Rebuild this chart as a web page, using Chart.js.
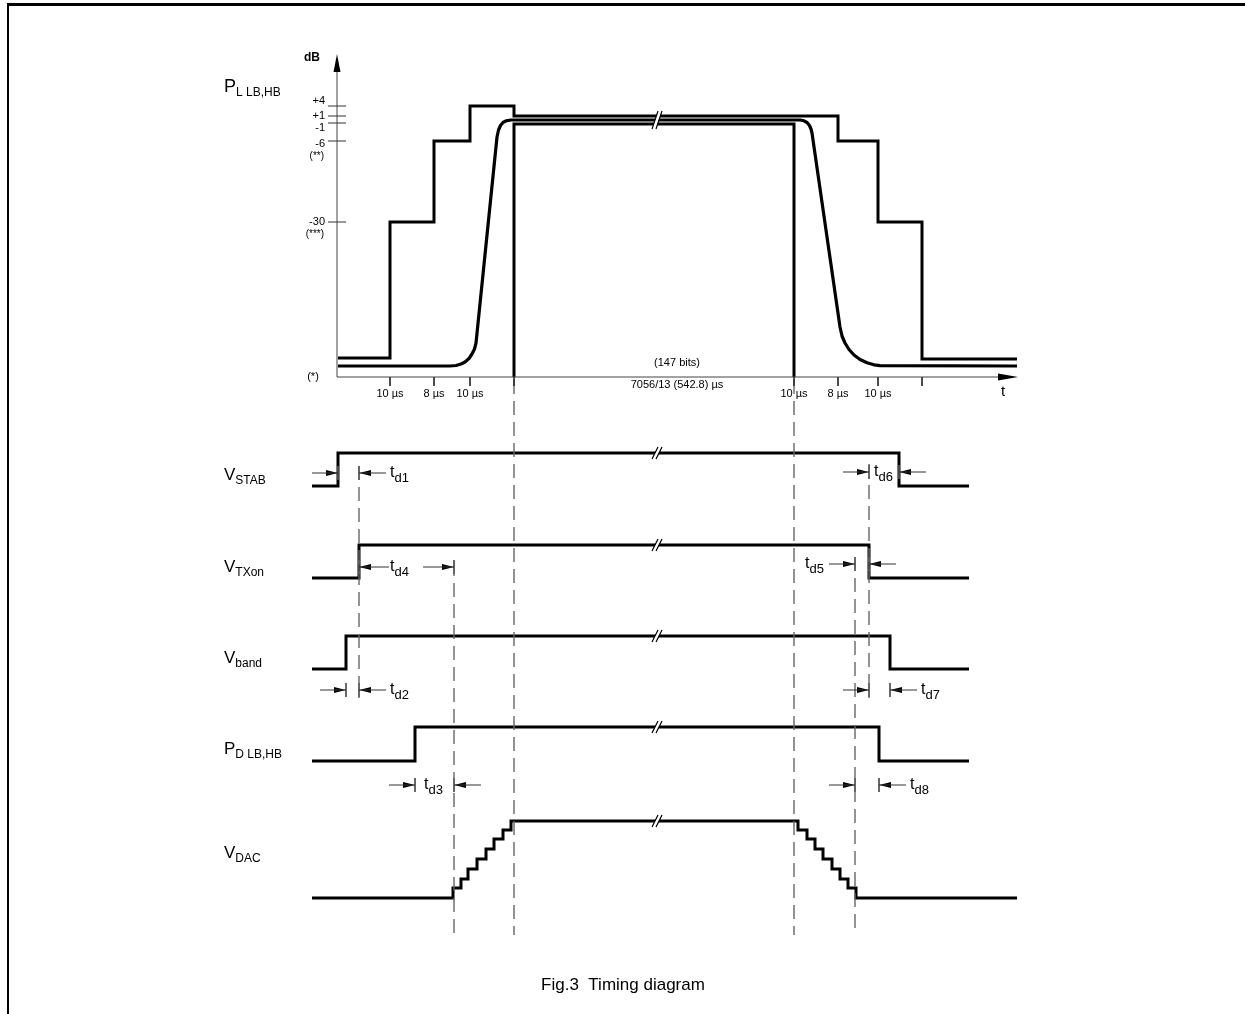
<!DOCTYPE html>
<html>
<head>
<meta charset="utf-8">
<script src="https://cdn.jsdelivr.net/npm/chart.js@4/dist/chart.umd.min.js"></script>
<style>
html, body { margin:0; padding:0; background:#fff; }
#wrap { position:relative; width:1245px; height:1014px; overflow:hidden; }
#frame { position:absolute; left:7px; top:3px; width:1250px; height:1030px; border-top:3px solid #000; border-left:2px solid #000; }
canvas { position:absolute; left:0; top:0; }
</style>
</head>
<body>
<div id="wrap"><div id="frame"></div><canvas id="c" width="1245" height="1014"></canvas></div>
<script>
// Values, in diagram units (t to the right, level downwards)

// t axis of the power plot
var tTicks      = [390, 434, 470, 514, 794, 838, 878, 922];
var tTickLabels = ['10 µs', '8 µs', '10 µs', '', '10 µs', '8 µs', '10 µs', ''];

// dB axis
var dbTicks  = [106, 116, 123, 141, 222];
var dbLabels = ['+4', '+1', '-1', '-6', '-30'];
var dbNotes  = ['', '', '', '(**)', '(***)'];

// power/time template: upper mask (stepped) and lower mask
var maskUpT   = [338, 390, 434, 470, 514, 838, 878, 922, 1017];
var maskUpLvl = [358, 222, 141, 106, 116, 141, 222, 359, 359];
var maskLoT   = [514, 514, 794, 794];
var maskLoLvl = [377, 124, 124, 377];

// transmitted power burst
var powerT   = [338, 450, 456, 461, 465, 469, 472, 474.5, 476, 497, 498.5, 500.5, 503, 506, 511,
                800, 804, 807, 809.5, 811, 812, 840, 842, 845, 849, 854, 860, 867, 874, 880, 1017];
var powerLvl = [366, 366, 365.5, 364, 362, 358.5, 354, 349, 343, 137, 130, 125.5, 122.5, 120.8, 120,
                120, 120.8, 122.5, 125.5, 129, 133, 327, 336, 343, 349.5, 355, 359.5, 362.8, 364.8, 365.7, 366];

// control signals: switch-on and switch-off instants
var sigMain = ['V', 'V', 'V', 'P'];
var sigSub  = ['STAB', 'TXon', 'band', 'D LB,HB'];
var sigHigh = [453, 545, 636, 727];
var sigLow  = [486, 578, 669, 761];
var sigOn   = [338, 359, 346, 415];
var sigOff  = [899, 869, 890, 879];

// DAC ramp (8 steps up, 8 steps down)
var dacUpT   = [453, 461, 468, 477, 486, 494, 503, 511];
var dacDownT = [798, 807, 815, 823, 832, 840, 848, 856];
var dacLvl   = [898, 888, 879, 869, 859, 849, 839, 830, 821];

// delay markers t_d1..t_d8
var tdNames = ['d1', 'd2', 'd3', 'd4', 'd5', 'd6', 'd7', 'd8'];
var tdLvl   = [473, 690, 785, 567, 564, 472, 690, 785];
var tdFrom  = [338, 346, 415, 359, 855, 869, 869, 855];
var tdTo    = [359, 359, 454, 454, 869, 899, 890, 879];

// dashed reference lines
var guideT    = [359, 454, 514, 794, 855, 869];
var guideFrom = [466, 562, 380, 380, 557, 464];
var guideTo   = [698, 935, 935, 935, 935, 698];

var FONT = "'Liberation Sans', Arial, Helvetica, sans-serif";

function pts(xs, ys){
	return xs.map(function(x, i){ return { x: x, y: ys[i] }; });
}

function line(data, extra){
	var d = { data: data, borderColor: '#000', borderWidth: 3, pointRadius: 0, fill: false,
		tension: 0, borderJoinStyle: 'miter', borderCapStyle: 'butt', spanGaps: false };
	for (var k in extra) d[k] = extra[k];
	return d;
}

var datasets = [];

// axes of the power plot
datasets.push(line([{x:337, y:377}, {x:1005, y:377}], { borderWidth: 1, borderColor: '#444' }));
datasets.push(line([{x:337, y:377}, {x:337, y:64}], { borderWidth: 1, borderColor: '#444' }));

// tick marks (segments separated by gaps)
var ticks = [];
tTicks.forEach(function(t){ ticks.push({x:t, y:377}, {x:t, y:386}, {x:t, y:null}); });
dbTicks.forEach(function(l){ ticks.push({x:328, y:l}, {x:346, y:l}, {x:346, y:null}); });
datasets.push(line(ticks, { borderWidth: 1, borderColor: '#333' }));

// dashed reference lines
var guides = [];
guideT.forEach(function(t, i){ guides.push({x:t, y:guideFrom[i]}, {x:t, y:guideTo[i]}, {x:t, y:null}); });
datasets.push(line(guides, { borderWidth: 1.4, borderColor: '#666', borderDash: [14, 7] }));

// small end marks of delay arrows
var tdMarks = [];
tdNames.forEach(function(n, i){
	[tdFrom[i], tdTo[i]].forEach(function(t){ tdMarks.push({x:t, y:tdLvl[i]-7}, {x:t, y:tdLvl[i]+7}, {x:t, y:null}); });
});
datasets.push(line(tdMarks, { borderWidth: 1, borderColor: '#555' }));

// masks and burst
datasets.push(line(pts(maskUpT, maskUpLvl), { stepped: true }));
datasets.push(line(pts(maskLoT, maskLoLvl)));
datasets.push(line(pts(powerT, powerLvl), { borderWidth: 3.2, borderJoinStyle: 'round' }));

// control signals
sigMain.forEach(function(m, i){
	var d = [{x:312, y:sigLow[i]}, {x:sigOn[i], y:sigHigh[i]}, {x:sigOff[i], y:sigLow[i]}, {x:969, y:sigLow[i]}];
	datasets.push(line(d, { stepped: true }));
});

// DAC staircase
var dac = [{x:312, y:dacLvl[0]}];
dacUpT.forEach(function(t, i){ dac.push({x:t, y:dacLvl[i+1]}); });
dacDownT.forEach(function(t, i){ dac.push({x:t, y:dacLvl[dacLvl.length-2-i]}); });
dac.push({x:1017, y:dacLvl[0]});
datasets.push(line(dac, { stepped: true }));

// text, arrows and break marks drawn on top using the chart scales
var decorations = {
	id: 'decorations',
	afterDatasetsDraw: function(chart){
		var ctx = chart.ctx, sx = chart.scales.x, sy = chart.scales.y;
		function X(v){ return sx.getPixelForValue(v); }
		function Y(v){ return sy.getPixelForValue(v); }

		function text(s, x, y, size, align, bold){
			ctx.font = (bold ? 'bold ' : '') + size + 'px ' + FONT;
			ctx.textAlign = align || 'left';
			ctx.textBaseline = 'middle';
			ctx.fillStyle = '#000';
			ctx.fillText(s, X(x), Y(y));
		}
		// big letter with subscript
		function sub(m, s, x, y, size, subSize, drop){
			ctx.font = size + 'px ' + FONT;
			ctx.textAlign = 'left';
			ctx.textBaseline = 'middle';
			ctx.fillStyle = '#000';
			ctx.fillText(m, X(x), Y(y));
			var w = ctx.measureText(m).width;
			ctx.font = subSize + 'px ' + FONT;
			ctx.fillText(s, X(x) + w, Y(y) + drop);
		}
		function arrow(tip, y, dir, len, half){
			var x = X(tip), yy = Y(y);
			ctx.beginPath();
			ctx.moveTo(x, yy);
			ctx.lineTo(x - dir*len, yy - half);
			ctx.lineTo(x - dir*len, yy + half);
			ctx.closePath();
			ctx.fillStyle = '#000';
			ctx.fill();
		}
		function hline(a, b, y){
			ctx.beginPath();
			ctx.moveTo(X(a), Y(y));
			ctx.lineTo(X(b), Y(y));
			ctx.strokeStyle = '#333';
			ctx.lineWidth = 1;
			ctx.stroke();
		}
		function brk(t, y, h){
			var x = X(t), yy = Y(y);
			ctx.beginPath();
			ctx.moveTo(x-5, yy+h); ctx.lineTo(x+1, yy-h); ctx.lineTo(x+5, yy-h); ctx.lineTo(x-1, yy+h);
			ctx.closePath();
			ctx.fillStyle = '#fff';
			ctx.fill();
			ctx.strokeStyle = '#000';
			ctx.lineWidth = 1.2;
			ctx.beginPath();
			ctx.moveTo(x-5, yy+h); ctx.lineTo(x+1, yy-h);
			ctx.moveTo(x-1, yy+h); ctx.lineTo(x+5, yy-h);
			ctx.stroke();
		}

		ctx.save();

		// breaks in the long burst
		brk(657, 120, 9);
		sigHigh.forEach(function(l){ brk(657, l, 6); });
		brk(657, dacLvl[dacLvl.length-1], 6);

		// axis arrows
		ctx.beginPath();
		ctx.moveTo(X(337), Y(54)); ctx.lineTo(X(333.5), Y(72)); ctx.lineTo(X(340.5), Y(72)); ctx.closePath();
		ctx.fillStyle = '#000'; ctx.fill();
		arrow(1018, 377, 1, 20, 3.5);

		// axis labels
		var dbShift = [-5, 0, 5, 3, 0];
		text('dB', 312, 58, 12, 'center', true);
		text('t', 1003, 392, 15, 'center');
		text('(*)', 313, 377, 11, 'center');
		dbTicks.forEach(function(l, i){
			text(dbLabels[i], 325, l + dbShift[i], 11, 'right');
			if (dbNotes[i]) text(dbNotes[i], 324, l + dbShift[i] + 12, 10, 'right');
		});
		tTicks.forEach(function(t, i){ if (tTickLabels[i]) text(tTickLabels[i], t, 394, 11, 'center'); });
		text('(147 bits)', 677, 363, 11, 'center');
		text('7056/13 (542.8) µs', 677, 385, 11, 'center');

		// signal names
		sub('P', 'L LB,HB', 224, 87, 18, 12, 6);
		sigMain.forEach(function(m, i){ sub(m, sigSub[i], 224, sigHigh[i] + 22, 17, 12, 6); });
		sub('V', 'DAC', 224, 853, 17, 12, 6);

		// delay markers
		tdNames.forEach(function(n, i){
			var a = tdFrom[i], b = tdTo[i], y = tdLvl[i];
			if (n == 'd4'){
				arrow(a, y, -1, 12, 3); arrow(b, y, 1, 12, 3);
				hline(a, 389, y); hline(423, b, y);
				sub('t', n, 390, y, 16, 13, 5);
				return;
			}
			arrow(a, y, 1, 12, 3); arrow(b, y, -1, 12, 3);
			hline(a - 26, a, y); hline(b, b + 27, y);
			if (n == 'd3') sub('t', n, 424, y, 16, 13, 5);
			else if (n == 'd6') sub('t', n, 874, y, 16, 13, 5);
			else if (n == 'd5') sub('t', n, 805, y, 16, 13, 5);
			else sub('t', n, b + 31, y, 16, 13, 5);
		});

		// caption
		text('Fig.3  Timing diagram', 623, 985, 17, 'center');

		ctx.restore();
	}
};

new Chart(document.getElementById('c').getContext('2d'), {
	type: 'line',
	data: { datasets: datasets },
	options: {
		responsive: false,
		animation: false,
		events: [],
		layout: { padding: 0 },
		plugins: { legend: { display: false }, tooltip: { enabled: false } },
		scales: {
			x: { type: 'linear', min: 0, max: 1245, display: false },
			y: { type: 'linear', min: 0, max: 1014, reverse: true, display: false }
		}
	},
	plugins: [decorations]
});
</script>
</body>
</html>
